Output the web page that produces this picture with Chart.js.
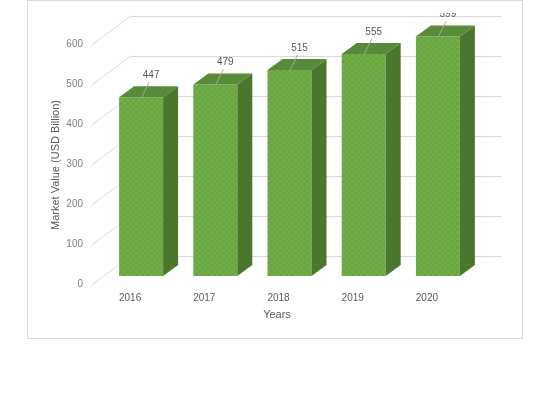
<!DOCTYPE html>
<html>
<head>
<meta charset="utf-8">
<script src="https://cdn.jsdelivr.net/npm/chart.js@4"></script>
<style>
  html, body { margin: 0; padding: 0; background: #fff; }
  #wrap { width: 553px; height: 393px; }
</style>
</head>
<body>
<div id="wrap"><canvas id="chart" width="553" height="393"></canvas></div>
<script>
const years = ["2016", "2017", "2018", "2019", "2020"];
const marketValue = [447, 479, 515, 555, 599];
const yTicks = [0, 100, 200, 300, 400, 500, 600];
const yTitle = "Market Value (USD Billion)";
const xTitle = "Years";

const FONT = '"Liberation Sans", Arial, sans-serif';

// the bars look like excel 3d columns, front face has a fine checker texture
function makePattern() {
  const c = document.createElement("canvas");
  c.width = 6; c.height = 6;
  const g = c.getContext("2d");
  g.fillStyle = "#71ae48";
  g.fillRect(0, 0, 6, 6);
  g.fillStyle = "#69a641";
  g.fillRect(0, 0, 3, 3);
  g.fillRect(3, 3, 3, 3);
  return g.createPattern(c, "repeat");
}

// depth offsets: front plane (labels), bar depth, back wall
const FRONT = { dx: -12, dy: 9 };
const DEPTH = { dx: 15, dy: -11 };
const BACK = { dx: 26.5, dy: -20 };

const box3d = {
  id: "box3d",
  beforeDatasetsDraw(chart) {
    const ctx = chart.ctx;
    const ys = chart.scales.y, xs = chart.scales.x;
    const area = chart.chartArea;
    ctx.save();
    // outer frame
    ctx.strokeStyle = "#d9d9d9";
    ctx.lineWidth = 1;
    ctx.strokeRect(27.5, 0.5, 495, 338);

    // back wall grid + diagonals to the front plane
    ctx.strokeStyle = "#d9d9d9";
    yTicks.forEach(v => {
      const py = ys.getPixelForValue(v);
      ctx.beginPath();
      ctx.moveTo(area.left + BACK.dx, py + BACK.dy + 0.5);
      ctx.lineTo(area.right + BACK.dx, py + BACK.dy + 0.5);
      ctx.stroke();
      ctx.beginPath();
      ctx.moveTo(area.left + FRONT.dx, py + FRONT.dy);
      ctx.lineTo(area.left + BACK.dx, py + BACK.dy);
      ctx.stroke();
    });

    // tick labels
    ctx.fillStyle = "#808080";
    ctx.font = "10px " + FONT;
    ctx.textAlign = "right";
    ctx.textBaseline = "middle";
    yTicks.forEach(v => {
      const py = ys.getPixelForValue(v);
      ctx.fillText(String(v), 83, py + 8.5);
    });

    ctx.fillStyle = "#595959";
    ctx.textAlign = "center";
    years.forEach((lbl, i) => {
      const px = xs.getPixelForValue(i);
      ctx.fillText(lbl, px - 11, 298);
    });

    // axis titles
    ctx.fillStyle = "#595959";
    ctx.font = "11px " + FONT;
    ctx.fillText(xTitle, 277, 315);
    ctx.translate(56, 165);
    ctx.rotate(-Math.PI / 2);
    ctx.fillText(yTitle, 0, 0);
    ctx.restore();
  },
  afterDatasetsDraw(chart) {
    const ctx = chart.ctx;
    const meta = chart.getDatasetMeta(0);
    ctx.save();
    meta.data.forEach((bar, i) => {
      const w = bar.width;
      const l = bar.x - w / 2, r = bar.x + w / 2;
      const t = bar.y, b = bar.base;
      // right side
      ctx.fillStyle = "#4a772d";
      ctx.beginPath();
      ctx.moveTo(r, t);
      ctx.lineTo(r + DEPTH.dx, t + DEPTH.dy);
      ctx.lineTo(r + DEPTH.dx, b + DEPTH.dy);
      ctx.lineTo(r, b);
      ctx.closePath();
      ctx.fill();
      // top
      ctx.fillStyle = "#588b39";
      ctx.beginPath();
      ctx.moveTo(l, t);
      ctx.lineTo(l + DEPTH.dx, t + DEPTH.dy);
      ctx.lineTo(r + DEPTH.dx, t + DEPTH.dy);
      ctx.lineTo(r, t);
      ctx.closePath();
      ctx.fill();
    });

    // data labels with leader lines
    ctx.beginPath();
    ctx.rect(0, 13, chart.width, chart.height);
    ctx.clip();
    ctx.font = "10px " + FONT;
    ctx.textAlign = "center";
    ctx.textBaseline = "middle";
    meta.data.forEach((bar, i) => {
      ctx.strokeStyle = "#a6a6a6";
      ctx.lineWidth = 1;
      ctx.beginPath();
      ctx.moveTo(bar.x + 0.5, bar.y + 0.5);
      ctx.lineTo(bar.x + 8, bar.y - 15);
      ctx.stroke();
      ctx.fillStyle = "#595959";
      ctx.fillText(String(marketValue[i]), bar.x + 10, bar.y - 22);
    });
    ctx.restore();
  }
};

const ctx = document.getElementById("chart").getContext("2d");
new Chart(ctx, {
  type: "bar",
  data: {
    labels: years,
    datasets: [{
      label: yTitle,
      data: marketValue,
      backgroundColor: makePattern(),
      borderWidth: 0,
      barPercentage: 0.593,
      categoryPercentage: 1
    }]
  },
  options: {
    responsive: false,
    animation: false,
    layout: { padding: { left: 104, right: 78, top: 36, bottom: 117 } },
    plugins: { legend: { display: false }, tooltip: { enabled: false } },
    scales: {
      x: { display: false },
      y: { display: false, min: 0, max: 600 }
    }
  },
  plugins: [box3d]
});
</script>
</body>
</html>
